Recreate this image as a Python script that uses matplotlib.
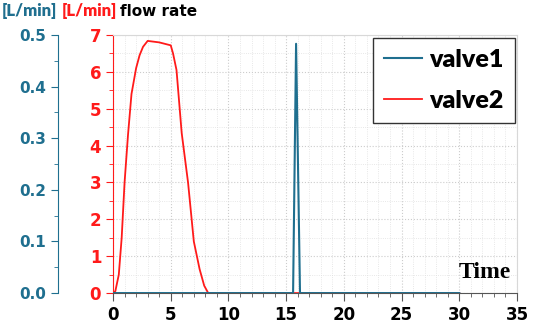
import matplotlib.pyplot as plt
from matplotlib.ticker import MultipleLocator

# data
t_valve2 = [0, 0.2, 0.5, 0.75, 1.0, 1.3, 1.6, 2.0, 2.3, 2.6, 3.0, 4.0, 5.0, 5.2, 5.5, 5.95, 6.5, 7.0, 7.5, 7.9, 8.25, 30]
q_valve2 = [0, 0.05, 0.5, 1.5, 3.0, 4.3, 5.4, 6.1, 6.45, 6.68, 6.84, 6.8, 6.72, 6.5, 6.05, 4.34, 3.0, 1.4, 0.65, 0.2, 0, 0]

t_valve1 = [0, 15.6, 15.86, 16.2, 30]
q_valve1 = [0, 0, 0.483, 0, 0]

blue = '#1f6f8f'
red = '#ff1a1a'

fig = plt.figure(figsize=(5.5, 3.26), dpi=100)
ax = fig.add_axes([0.2055, 0.101, 0.7345, 0.7916])
ax2 = ax.twinx()

# red axis (valve2)
l2, = ax.plot(t_valve2, q_valve2, color=red, lw=1.3, zorder=3)
ax.set_xlim(0, 35)
ax.set_ylim(0, 7)
ax.xaxis.set_major_locator(MultipleLocator(5))
ax.xaxis.set_minor_locator(MultipleLocator(1))
ax.yaxis.set_major_locator(MultipleLocator(1))
ax.yaxis.set_minor_locator(MultipleLocator(0.5))
ax.grid(which='major', color='#cccccc', ls=':', lw=0.8)
ax.grid(which='minor', color='#e0e0e0', ls=':', lw=0.6)
ax.spines['left'].set_color(red)
ax.spines['top'].set_color('#d8d8d8')
ax.spines['right'].set_color('#d8d8d8')
ax.spines['bottom'].set_color('#555555')
ax.tick_params(axis='y', which='both', colors=red, direction='out')
ax.tick_params(axis='y', which='major', length=5, labelsize=12)
ax.tick_params(axis='y', which='minor', length=3)
ax.tick_params(axis='x', which='both', color='#555555', direction='out')
ax.tick_params(axis='x', which='major', length=6, labelsize=12)
ax.tick_params(axis='x', which='minor', length=3)
for lab in ax.get_yticklabels():
    lab.set_fontweight('bold')
    lab.set_color(red)
for lab in ax.get_xticklabels():
    lab.set_fontweight('bold')

# blue axis (valve1) on a detached left spine
l1, = ax2.plot(t_valve1, q_valve1, color=blue, lw=1.5, zorder=4)
ax2.set_ylim(0, 0.5)
ax2.yaxis.set_major_locator(MultipleLocator(0.1))
ax2.yaxis.set_minor_locator(MultipleLocator(0.05))
ax2.spines['left'].set_visible(True)
ax2.spines['left'].set_position(('axes', -0.136))
ax2.spines['left'].set_color(blue)
ax2.spines['right'].set_visible(False)
ax2.spines['top'].set_visible(False)
ax2.spines['bottom'].set_visible(False)
ax2.yaxis.set_ticks_position('left')
ax2.yaxis.set_label_position('left')
ax2.tick_params(axis='y', which='both', colors=blue, direction='out')
ax2.tick_params(axis='y', which='major', length=5, labelsize=11)
ax2.tick_params(axis='y', which='minor', length=3)
ax2.yaxis.set_major_formatter(plt.FormatStrFormatter('%.1f'))
for lab in ax2.get_yticklabels():
    lab.set_fontweight('bold')

leg = ax2.legend([l1, l2], ['valve1', 'valve2'], loc='upper right',
                 bbox_to_anchor=(0.995, 0.99), fancybox=False, framealpha=1,
                 edgecolor='#333333',
                 prop={'weight': 'heavy', 'size': 18, 'family': 'Lato'},
                 handlelength=1.5, handletextpad=0.3, borderpad=0.45,
                 labelspacing=0.75, borderaxespad=0)
leg.get_frame().set_linewidth(1.0)

fig.text(0.004, 0.95, '[L/min]', color=blue, fontsize=12, fontweight='heavy', family='Lato')
fig.text(0.113, 0.95, '[L/min]', color=red, fontsize=12, fontweight='heavy', family='Lato')
fig.text(0.218, 0.95, 'flow rate', color='black', fontsize=11, fontweight='bold')
ax.text(0.985, 0.04, 'Time', transform=ax.transAxes, ha='right', va='bottom',
        fontsize=17, fontweight='bold', family='Liberation Serif')

fig.savefig('out.png', dpi=100)
